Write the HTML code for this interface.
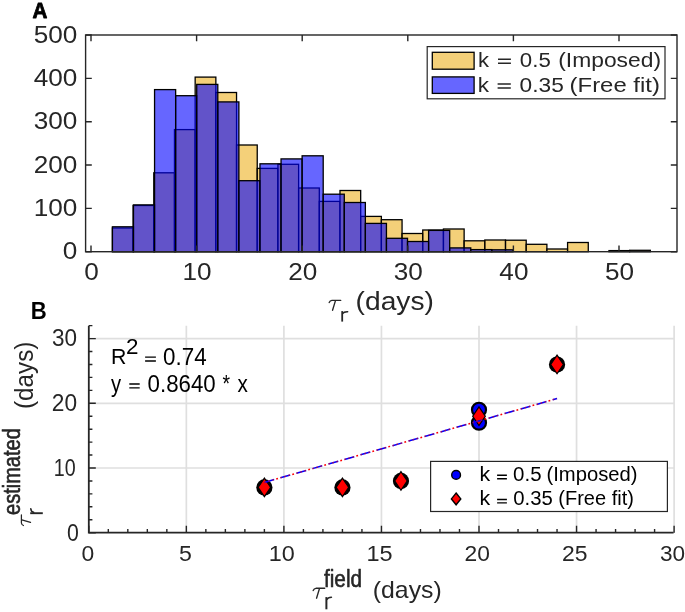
<!DOCTYPE html>
<html><head><meta charset="utf-8"><style>
html,body{margin:0;padding:0;background:#fff;}
svg{display:block;will-change:transform;}
text{font-family:"Liberation Sans", sans-serif;}
</style></head><body>
<svg width="685" height="612" viewBox="0 0 685 612" font-family="Liberation Sans, sans-serif">
<rect x="0" y="0" width="685" height="612" fill="#fff"/>
<g>
<rect x="112.40" y="228.00" width="20.69" height="23.70" fill="#EDB120" fill-opacity="0.6" stroke="#000" stroke-width="1.3"/>
<rect x="133.09" y="205.50" width="20.69" height="46.20" fill="#EDB120" fill-opacity="0.6" stroke="#000" stroke-width="1.3"/>
<rect x="153.78" y="172.80" width="20.69" height="78.90" fill="#EDB120" fill-opacity="0.6" stroke="#000" stroke-width="1.3"/>
<rect x="174.47" y="129.60" width="20.69" height="122.10" fill="#EDB120" fill-opacity="0.6" stroke="#000" stroke-width="1.3"/>
<rect x="195.16" y="77.10" width="20.69" height="174.60" fill="#EDB120" fill-opacity="0.6" stroke="#000" stroke-width="1.3"/>
<rect x="215.85" y="92.50" width="20.69" height="159.20" fill="#EDB120" fill-opacity="0.6" stroke="#000" stroke-width="1.3"/>
<rect x="236.54" y="145.00" width="20.69" height="106.70" fill="#EDB120" fill-opacity="0.6" stroke="#000" stroke-width="1.3"/>
<rect x="257.23" y="168.40" width="20.69" height="83.30" fill="#EDB120" fill-opacity="0.6" stroke="#000" stroke-width="1.3"/>
<rect x="277.92" y="164.30" width="20.69" height="87.40" fill="#EDB120" fill-opacity="0.6" stroke="#000" stroke-width="1.3"/>
<rect x="298.61" y="188.00" width="20.69" height="63.70" fill="#EDB120" fill-opacity="0.6" stroke="#000" stroke-width="1.3"/>
<rect x="319.30" y="201.40" width="20.69" height="50.30" fill="#EDB120" fill-opacity="0.6" stroke="#000" stroke-width="1.3"/>
<rect x="339.99" y="190.50" width="20.69" height="61.20" fill="#EDB120" fill-opacity="0.6" stroke="#000" stroke-width="1.3"/>
<rect x="360.68" y="216.40" width="20.69" height="35.30" fill="#EDB120" fill-opacity="0.6" stroke="#000" stroke-width="1.3"/>
<rect x="381.37" y="219.70" width="20.69" height="32.00" fill="#EDB120" fill-opacity="0.6" stroke="#000" stroke-width="1.3"/>
<rect x="402.06" y="233.50" width="20.69" height="18.20" fill="#EDB120" fill-opacity="0.6" stroke="#000" stroke-width="1.3"/>
<rect x="422.75" y="230.00" width="20.69" height="21.70" fill="#EDB120" fill-opacity="0.6" stroke="#000" stroke-width="1.3"/>
<rect x="443.44" y="229.00" width="20.69" height="22.70" fill="#EDB120" fill-opacity="0.6" stroke="#000" stroke-width="1.3"/>
<rect x="464.13" y="240.80" width="20.69" height="10.90" fill="#EDB120" fill-opacity="0.6" stroke="#000" stroke-width="1.3"/>
<rect x="484.82" y="240.00" width="20.69" height="11.70" fill="#EDB120" fill-opacity="0.6" stroke="#000" stroke-width="1.3"/>
<rect x="505.51" y="240.20" width="20.69" height="11.50" fill="#EDB120" fill-opacity="0.6" stroke="#000" stroke-width="1.3"/>
<rect x="526.20" y="244.30" width="20.69" height="7.40" fill="#EDB120" fill-opacity="0.6" stroke="#000" stroke-width="1.3"/>
<rect x="546.89" y="249.00" width="20.69" height="2.70" fill="#EDB120" fill-opacity="0.6" stroke="#000" stroke-width="1.3"/>
<rect x="567.58" y="242.50" width="20.69" height="9.20" fill="#EDB120" fill-opacity="0.6" stroke="#000" stroke-width="1.3"/>
<rect x="608.96" y="250.60" width="20.69" height="1.10" fill="#EDB120" fill-opacity="0.6" stroke="#000" stroke-width="1.3"/>
<rect x="629.65" y="250.30" width="20.69" height="1.40" fill="#EDB120" fill-opacity="0.6" stroke="#000" stroke-width="1.3"/>
<rect x="112.40" y="226.80" width="21.08" height="24.90" fill="#0000FF" fill-opacity="0.6" stroke="#000" stroke-width="1.3"/>
<rect x="133.48" y="204.90" width="21.08" height="46.80" fill="#0000FF" fill-opacity="0.6" stroke="#000" stroke-width="1.3"/>
<rect x="154.56" y="89.60" width="21.08" height="162.10" fill="#0000FF" fill-opacity="0.6" stroke="#000" stroke-width="1.3"/>
<rect x="175.64" y="95.70" width="21.08" height="156.00" fill="#0000FF" fill-opacity="0.6" stroke="#000" stroke-width="1.3"/>
<rect x="196.72" y="84.40" width="21.08" height="167.30" fill="#0000FF" fill-opacity="0.6" stroke="#000" stroke-width="1.3"/>
<rect x="217.80" y="101.90" width="21.08" height="149.80" fill="#0000FF" fill-opacity="0.6" stroke="#000" stroke-width="1.3"/>
<rect x="238.88" y="180.70" width="21.08" height="71.00" fill="#0000FF" fill-opacity="0.6" stroke="#000" stroke-width="1.3"/>
<rect x="259.96" y="163.80" width="21.08" height="87.90" fill="#0000FF" fill-opacity="0.6" stroke="#000" stroke-width="1.3"/>
<rect x="281.04" y="158.90" width="21.08" height="92.80" fill="#0000FF" fill-opacity="0.6" stroke="#000" stroke-width="1.3"/>
<rect x="302.12" y="155.80" width="21.08" height="95.90" fill="#0000FF" fill-opacity="0.6" stroke="#000" stroke-width="1.3"/>
<rect x="323.20" y="194.20" width="21.08" height="57.50" fill="#0000FF" fill-opacity="0.6" stroke="#000" stroke-width="1.3"/>
<rect x="344.28" y="202.50" width="21.08" height="49.20" fill="#0000FF" fill-opacity="0.6" stroke="#000" stroke-width="1.3"/>
<rect x="365.36" y="223.40" width="21.08" height="28.30" fill="#0000FF" fill-opacity="0.6" stroke="#000" stroke-width="1.3"/>
<rect x="386.44" y="238.30" width="21.08" height="13.40" fill="#0000FF" fill-opacity="0.6" stroke="#000" stroke-width="1.3"/>
<rect x="407.52" y="241.50" width="21.08" height="10.20" fill="#0000FF" fill-opacity="0.6" stroke="#000" stroke-width="1.3"/>
<rect x="428.60" y="230.40" width="21.08" height="21.30" fill="#0000FF" fill-opacity="0.6" stroke="#000" stroke-width="1.3"/>
<rect x="449.68" y="247.90" width="21.08" height="3.80" fill="#0000FF" fill-opacity="0.6" stroke="#000" stroke-width="1.3"/>
<rect x="470.76" y="249.60" width="21.08" height="2.10" fill="#0000FF" fill-opacity="0.6" stroke="#000" stroke-width="1.3"/>
<rect x="491.84" y="249.80" width="21.08" height="1.90" fill="#0000FF" fill-opacity="0.6" stroke="#000" stroke-width="1.3"/>
</g>
<rect x="85.6" y="35.0" width="591.40" height="216.70" fill="none" stroke="#262626" stroke-width="1.4"/>
<path d="M91.00,251.7V245.5M91.00,35.0V41.2M196.60,251.7V245.5M196.60,35.0V41.2M302.20,251.7V245.5M302.20,35.0V41.2M407.80,251.7V245.5M407.80,35.0V41.2M513.40,251.7V245.5M513.40,35.0V41.2M619.00,251.7V245.5M619.00,35.0V41.2M85.6,251.70H91.8M677.0,251.70H670.8M85.6,208.36H91.8M677.0,208.36H670.8M85.6,165.02H91.8M677.0,165.02H670.8M85.6,121.68H91.8M677.0,121.68H670.8M85.6,78.34H91.8M677.0,78.34H670.8M85.6,35.00H91.8M677.0,35.00H670.8" stroke="#262626" stroke-width="1.4" fill="none"/>
<text transform="translate(77.40,259.30) scale(1.0900,1)" font-size="24" font-weight="normal" font-style="normal" text-anchor="end" fill="#262626">0</text>
<text transform="translate(77.40,215.96) scale(1.0900,1)" font-size="24" font-weight="normal" font-style="normal" text-anchor="end" fill="#262626">100</text>
<text transform="translate(77.40,172.62) scale(1.0900,1)" font-size="24" font-weight="normal" font-style="normal" text-anchor="end" fill="#262626">200</text>
<text transform="translate(77.40,129.28) scale(1.0900,1)" font-size="24" font-weight="normal" font-style="normal" text-anchor="end" fill="#262626">300</text>
<text transform="translate(77.40,85.94) scale(1.0900,1)" font-size="24" font-weight="normal" font-style="normal" text-anchor="end" fill="#262626">400</text>
<text transform="translate(77.40,42.60) scale(1.0900,1)" font-size="24" font-weight="normal" font-style="normal" text-anchor="end" fill="#262626">500</text>
<text transform="translate(91.50,280.30) scale(1.0900,1)" font-size="24" font-weight="normal" font-style="normal" text-anchor="middle" fill="#262626">0</text>
<text transform="translate(197.10,280.30) scale(1.0900,1)" font-size="24" font-weight="normal" font-style="normal" text-anchor="middle" fill="#262626">10</text>
<text transform="translate(302.70,280.30) scale(1.0900,1)" font-size="24" font-weight="normal" font-style="normal" text-anchor="middle" fill="#262626">20</text>
<text transform="translate(408.30,280.30) scale(1.0900,1)" font-size="24" font-weight="normal" font-style="normal" text-anchor="middle" fill="#262626">30</text>
<text transform="translate(513.90,280.30) scale(1.0900,1)" font-size="24" font-weight="normal" font-style="normal" text-anchor="middle" fill="#262626">40</text>
<text transform="translate(619.50,280.30) scale(1.0900,1)" font-size="24" font-weight="normal" font-style="normal" text-anchor="middle" fill="#262626">50</text>
<rect x="427.2" y="46.6" width="237.8" height="52.2" fill="#fff" stroke="#262626" stroke-width="1.2"/>
<rect x="432.3" y="52.3" width="41.8" height="16.9" fill="#EDB120" fill-opacity="0.6" stroke="#000" stroke-width="1.3"/>
<rect x="432.3" y="76.9" width="41.8" height="16.5" fill="#0000FF" fill-opacity="0.6" stroke="#000" stroke-width="1.3"/>
<text transform="translate(477.97,67.40) scale(0.2207,0.2069)" font-size="100" font-weight="normal" fill="#262626">k</text>
<text transform="translate(519.81,67.40) scale(0.2229,0.2069)" font-size="100" font-weight="normal" fill="#262626">0.5</text>
<text transform="translate(558.23,67.40) scale(0.2285,0.2069)" font-size="100" font-weight="normal" fill="#262626">(Imposed)</text>
<path d="M498.00,59.35H510.90M498.00,63.35H510.90" stroke="#262626" stroke-width="1.5" fill="none"/>
<text transform="translate(477.64,91.70) scale(0.2253,0.2000)" font-size="100" font-weight="normal" fill="#262626">k</text>
<text transform="translate(519.59,91.70) scale(0.2273,0.2000)" font-size="100" font-weight="normal" fill="#262626">0.35</text>
<text transform="translate(569.57,91.70) scale(0.2391,0.2000)" font-size="100" font-weight="normal" fill="#262626">(Free fit)</text>
<path d="M497.60,83.90H510.80M497.60,87.90H510.80" stroke="#262626" stroke-width="1.5" fill="none"/>
<text transform="translate(32.59,17.80) scale(0.2060,0.2275)" font-size="100" font-weight="bold" font-style="normal" fill="#000" stroke="#000" stroke-width="3.5" stroke-linejoin="round">A</text>
<path transform="translate(331.30,300.40) scale(1.000)" d="M-2.1,2.2Q-1.3,0.2 0.6,0L9.4,0M4.1,0.5L1.25,9.9" fill="none" stroke="#262626" stroke-width="1.35" stroke-linecap="round"/>
<g transform="translate(342.20,311.10)" fill="none" stroke="#262626"><path d="M0,0V10.5" stroke-width="1.8"/><path d="M0.4,2.7Q1.6,0.4 5.5,0.6" stroke-width="1.4" stroke-linecap="round"/></g>
<text transform="translate(355.61,310.10) scale(0.2817,0.2497)" font-size="100" font-weight="normal" font-style="normal" fill="#262626">(days)</text>
<path d="M186.35,325.7V532.7M283.90,325.7V532.7M381.45,325.7V532.7M479.00,325.7V532.7M576.55,325.7V532.7M674.10,325.7V532.7M88.8,468.00H673.6M88.8,403.30H673.6M88.8,338.60H673.6" stroke="#dfdfdf" stroke-width="1.7" fill="none"/>
<path d="M88.8,325.7V532.7H673.6" stroke="#262626" stroke-width="1.8" fill="none"/>
<path d="M88.80,532.7V525.7M108.31,532.7V529.1M127.82,532.7V529.1M147.33,532.7V529.1M166.84,532.7V529.1M186.35,532.7V525.7M205.86,532.7V529.1M225.37,532.7V529.1M244.88,532.7V529.1M264.39,532.7V529.1M283.90,532.7V525.7M303.41,532.7V529.1M322.92,532.7V529.1M342.43,532.7V529.1M361.94,532.7V529.1M381.45,532.7V525.7M400.96,532.7V529.1M420.47,532.7V529.1M439.98,532.7V529.1M459.49,532.7V529.1M479.00,532.7V525.7M498.51,532.7V529.1M518.02,532.7V529.1M537.53,532.7V529.1M557.04,532.7V529.1M576.55,532.7V525.7M596.06,532.7V529.1M615.57,532.7V529.1M635.08,532.7V529.1M654.59,532.7V529.1M674.10,532.7V525.7M88.8,532.70H95.8M88.8,519.76H92.39999999999999M88.8,506.82H92.39999999999999M88.8,493.88H92.39999999999999M88.8,480.94H92.39999999999999M88.8,468.00H95.8M88.8,455.06H92.39999999999999M88.8,442.12H92.39999999999999M88.8,429.18H92.39999999999999M88.8,416.24H92.39999999999999M88.8,403.30H95.8M88.8,390.36H92.39999999999999M88.8,377.42H92.39999999999999M88.8,364.48H92.39999999999999M88.8,351.54H92.39999999999999M88.8,338.60H95.8M88.8,325.66H92.39999999999999" stroke="#262626" stroke-width="1.4" fill="none"/>
<text transform="translate(52.10,346.40) scale(0.2251,0.2300)" font-size="100" font-weight="normal" font-style="normal" fill="#262626">30</text>
<text transform="translate(51.86,411.10) scale(0.2273,0.2300)" font-size="100" font-weight="normal" font-style="normal" fill="#262626">20</text>
<text transform="translate(53.82,475.80) scale(0.1970,0.2300)" font-size="100" font-weight="normal" font-style="normal" fill="#262626">10</text>
<text transform="translate(67.05,540.50) scale(0.2125,0.2300)" font-size="100" font-weight="normal" font-style="normal" fill="#262626">0</text>
<text transform="translate(81.38,560.80) scale(0.2292,0.2229)" font-size="100" font-weight="normal" font-style="normal" fill="#262626">0</text>
<text transform="translate(178.92,560.80) scale(0.2316,0.2261)" font-size="100" font-weight="normal" font-style="normal" fill="#262626">5</text>
<text transform="translate(268.85,560.80) scale(0.2340,0.2229)" font-size="100" font-weight="normal" font-style="normal" fill="#262626">10</text>
<text transform="translate(366.39,560.80) scale(0.2352,0.2261)" font-size="100" font-weight="normal" font-style="normal" fill="#262626">15</text>
<text transform="translate(464.56,560.80) scale(0.2283,0.2229)" font-size="100" font-weight="normal" font-style="normal" fill="#262626">20</text>
<text transform="translate(562.10,560.80) scale(0.2294,0.2229)" font-size="100" font-weight="normal" font-style="normal" fill="#262626">25</text>
<text transform="translate(659.90,560.80) scale(0.2261,0.2229)" font-size="100" font-weight="normal" font-style="normal" fill="#262626">30</text>
<circle cx="264.39" cy="487.41" r="8.1" fill="#000"/>
<circle cx="342.43" cy="487.41" r="8.1" fill="#000"/>
<circle cx="400.96" cy="480.94" r="8.1" fill="#000"/>
<circle cx="557.04" cy="364.48" r="8.1" fill="#000"/>
<circle cx="479.00" cy="422.71" r="7.0" fill="#0000ff" stroke="#000" stroke-width="2.2"/>
<circle cx="479.00" cy="409.77" r="7.0" fill="#0000ff" stroke="#000" stroke-width="2.2"/>
<path d="M264.39,478.11L270.69,487.41L264.39,496.71L258.09,487.41Z" fill="#ff0000" stroke="#000" stroke-width="1.2"/>
<path d="M342.43,478.11L348.73,487.41L342.43,496.71L336.13,487.41Z" fill="#ff0000" stroke="#000" stroke-width="1.2"/>
<path d="M400.96,471.64L407.26,480.94L400.96,490.24L394.66,480.94Z" fill="#ff0000" stroke="#000" stroke-width="1.2"/>
<path d="M479.00,406.94L485.30,416.24L479.00,425.54L472.70,416.24Z" fill="#ff0000" stroke="#000" stroke-width="1.2"/>
<path d="M557.04,355.18L563.34,364.48L557.04,373.78L550.74,364.48Z" fill="#ff0000" stroke="#000" stroke-width="1.2"/>
<line x1="264.39" y1="482.39" x2="557.04" y2="398.54" stroke="#ff0000" stroke-width="1.55" stroke-dasharray="1.8 14.86" stroke-dashoffset="-12.34"/>
<line x1="264.39" y1="482.39" x2="557.04" y2="398.54" stroke="#0000ff" stroke-width="1.55" stroke-dasharray="10.2 6.46"/>
<line x1="264.39" y1="482.39" x2="557.04" y2="398.54" stroke="#ff0000" stroke-opacity="0.55" stroke-width="1.55" stroke-dasharray="1.6 2.565 1.6 2.57 1.6 6.725" stroke-dashoffset="0.055"/>
<rect x="430.6" y="461.4" width="236.8" height="50.1" fill="#fff" stroke="#262626" stroke-width="1.2"/>
<circle cx="456.1" cy="474.9" r="4.4" fill="#0000ff" stroke="#000" stroke-width="1.4"/>
<path d="M456.10,493.00L460.80,498.90L456.10,504.80L451.40,498.90Z" fill="#ff0000" stroke="#000" stroke-width="1.4"/>
<text transform="translate(479.51,481.30) scale(0.2138,0.2028)" font-size="100" font-weight="normal" fill="#000">k</text>
<text transform="translate(513.08,481.30) scale(0.2046,0.2028)" font-size="100" font-weight="normal" fill="#000">0.5</text>
<text transform="translate(546.48,481.30) scale(0.2025,0.2028)" font-size="100" font-weight="normal" fill="#000">(Imposed)</text>
<path d="M497.10,475.20H506.90M497.10,478.70H506.90" stroke="#000" stroke-width="1.4" fill="none"/>
<text transform="translate(479.51,505.20) scale(0.2138,0.1986)" font-size="100" font-weight="normal" fill="#000">k</text>
<text transform="translate(513.19,505.20) scale(0.2032,0.1986)" font-size="100" font-weight="normal" fill="#000">0.35</text>
<text transform="translate(558.30,505.20) scale(0.2003,0.1986)" font-size="100" font-weight="normal" fill="#000">(Free fit)</text>
<path d="M497.10,499.50H506.90M497.10,502.90H506.90" stroke="#000" stroke-width="1.4" fill="none"/>
<text transform="translate(111.09,363.90) scale(0.2134,0.2290)" font-size="100" font-weight="normal" font-style="normal" fill="#000">R</text>
<text transform="translate(125.98,353.80) scale(0.2242,0.2243)" font-size="100" font-weight="normal" font-style="normal" fill="#000">2</text>
<text transform="translate(163.10,364.50) scale(0.2240,0.2357)" font-size="100" font-weight="normal" fill="#000">0.74</text>
<path d="M145.10,357.10H155.90M145.10,361.00H155.90" stroke="#000" stroke-width="1.4" fill="none"/>
<text transform="translate(111.00,391.60) scale(0.2020,0.2357)" font-size="100" font-weight="normal" fill="#000">y</text>
<text transform="translate(147.61,391.60) scale(0.2228,0.2357)" font-size="100" font-weight="normal" fill="#000">0.8640</text>
<text transform="translate(222.61,391.60) scale(0.1944,0.2357)" font-size="100" font-weight="normal" fill="#000">*</text>
<text transform="translate(237.49,391.60) scale(0.2063,0.2357)" font-size="100" font-weight="normal" fill="#000">x</text>
<path d="M129.30,384.00H139.70M129.30,387.90H139.70" stroke="#000" stroke-width="1.4" fill="none"/>
<text transform="translate(30.86,319.30) scale(0.2213,0.2362)" font-size="100" font-weight="bold" font-style="normal" fill="#000">B</text>
<path transform="translate(315.30,588.30) scale(1.000)" d="M-2.1,2.2Q-1.3,0.2 0.6,0L9.4,0M4.1,0.5L1.25,9.9" fill="none" stroke="#262626" stroke-width="1.35" stroke-linecap="round"/>
<g transform="translate(326.40,597.10)" fill="none" stroke="#262626"><path d="M0,0V12.2" stroke-width="2.0"/><path d="M0.5,2.4Q1.5,0.3 5.0,0.1" stroke-width="1.6" stroke-linecap="round"/></g>
<text transform="translate(323.99,587.00) scale(0.2074,0.2345)" font-size="100" font-weight="normal" font-style="normal" fill="#262626" stroke="#262626" stroke-width="2.5" stroke-linejoin="round">field</text>
<text transform="translate(372.81,598.00) scale(0.2482,0.2359)" font-size="100" font-weight="normal" font-style="normal" fill="#262626">(days)</text>
<text transform="translate(32.50,408.96) rotate(-90) scale(0.2426,0.2593)" font-size="100" font-weight="normal" font-style="normal" fill="#262626">(days)</text>
<text transform="translate(20.30,515.00) rotate(-90) scale(0.2002,0.2441)" font-size="100" font-weight="normal" font-style="normal" fill="#262626" stroke="#262626" stroke-width="2.5" stroke-linejoin="round">estimated</text>
<g transform="translate(30.20,513.20) rotate(-90)" fill="none" stroke="#262626"><path d="M0,0V12.6" stroke-width="1.9"/><path d="M0.9,3.4Q1.5,0.8 4.5,0.6" stroke-width="1.6" stroke-linecap="round"/></g>
<path transform="translate(21.40,523.60) rotate(-90) scale(0.920)" d="M-2.1,2.2Q-1.3,0.2 0.6,0L9.4,0M4.1,0.5L1.25,9.9" fill="none" stroke="#262626" stroke-width="1.35" stroke-linecap="round"/>
</svg>
</body></html>
